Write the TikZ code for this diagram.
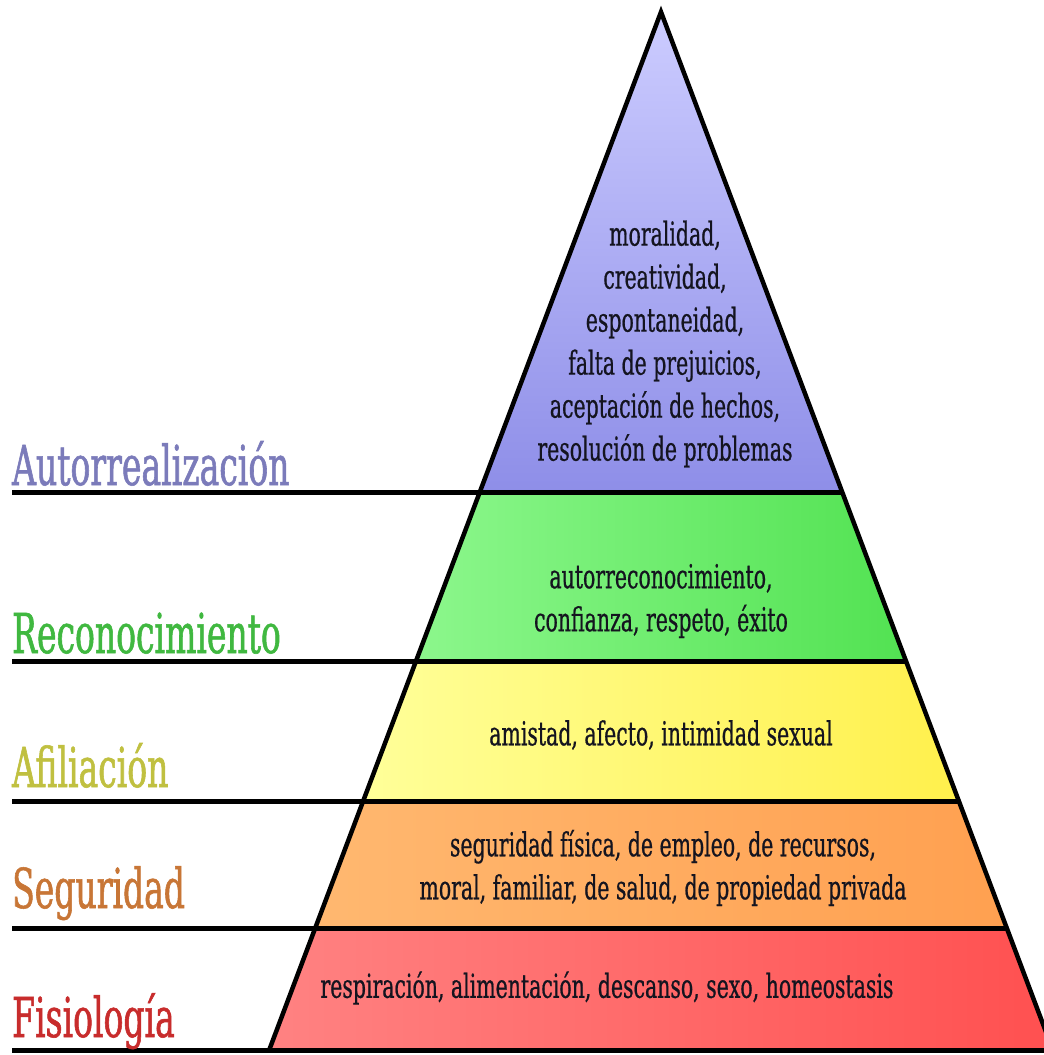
\documentclass[tikz,border=0pt]{standalone}
\usepackage{fontspec}
\setmainfont{DejaVu Serif}
\newfontfamily\narrowserif[FakeStretch=0.62,FakeBold=0.6]{DejaVu Serif}
\newfontfamily\labelserif[FakeStretch=0.6,FakeBold=1.0]{DejaVu Serif}
\definecolor{vioA}{HTML}{CCCCFF}
\definecolor{vioB}{HTML}{8E8EE8}
\definecolor{grnA}{HTML}{8CF78C}
\definecolor{grnB}{HTML}{52E252}
\definecolor{yelA}{HTML}{FFFF99}
\definecolor{yelB}{HTML}{FFF04C}
\definecolor{orgA}{HTML}{FFB870}
\definecolor{orgB}{HTML}{FFA050}
\definecolor{redA}{HTML}{FF8282}
\definecolor{redB}{HTML}{FF5050}
\definecolor{txt}{HTML}{14141F}
\definecolor{labV}{HTML}{7B7BBA}
\definecolor{labG}{HTML}{40B840}
\definecolor{labY}{HTML}{C0C040}
\definecolor{labO}{HTML}{C87636}
\definecolor{labR}{HTML}{C82C2C}
\begin{document}
\begin{tikzpicture}[x=1pt,y=-1pt,
  sep/.style={line width=5pt,black},
  edge/.style={line width=4.5pt,black,line join=miter},
  lbl/.style={anchor=base west,inner sep=0pt,font=\labelserif\fontsize{55}{60}\selectfont},
  inner/.style={align=center,inner sep=0pt,text=txt,font=\narrowserif\fontsize{33}{43}\selectfont}]
\clip (0,0) rectangle (1044,1055);
\fill[white] (0,0) rectangle (1044,1055);
% pyramid geometry
\coordinate (A) at (661,12);
\coordinate (L1) at (479.8,492);  \coordinate (R1) at (842.2,492);
\coordinate (L2) at (416.0,661);  \coordinate (R2) at (906.0,661);
\coordinate (L3) at (363.2,801);  \coordinate (R3) at (958.8,801);
\coordinate (L4) at (315.2,928);  \coordinate (R4) at (1006.8,928);
\coordinate (L5) at (269.2,1050); \coordinate (R5) at (1052.8,1050);
\coordinate (S1) at (12,492);
\coordinate (S2) at (12,661);
\coordinate (S3) at (12,801);
\coordinate (S4) at (12,928);
\coordinate (S5) at (12,1050);
% bands
\shade[top color=vioA,bottom color=vioB] (A) -- (R1) -- (L1) -- cycle;
\shade[left color=grnA,right color=grnB] (L1) -- (R1) -- (R2) -- (L2) -- cycle;
\shade[left color=yelA,right color=yelB] (L2) -- (R2) -- (R3) -- (L3) -- cycle;
\shade[left color=orgA,right color=orgB] (L3) -- (R3) -- (R4) -- (L4) -- cycle;
\shade[left color=redA,right color=redB] (L4) -- (R4) -- (R5) -- (L5) -- cycle;
% separators
\draw[sep] (S1) -- (R1);
\draw[sep] (S2) -- (R2);
\draw[sep] (S3) -- (R3);
\draw[sep] (S4) -- (R4);
\draw[sep] (S5) -- (R5);
% edges
\draw[edge] (L5) -- (A) -- (R5);
% level labels
\node[lbl,text=labV] (lv) at (12,485) {Autorrealización};
\node[lbl,text=labG] (lg) at (12,653) {Reconocimiento};
\node[lbl,text=labY] (ly) at (12,787) {Afiliación};
\node[lbl,text=labO] (lo) at (12,908) {Seguridad};
\node[lbl,text=labR] (lr) at (12,1037) {Fisiología};
% contents
\node[inner] (tv) at (665,344) {moralidad,\\creatividad,\\espontaneidad,\\falta de prejuicios,\\aceptación de hechos,\\resolución de problemas};
\node[inner] (tg) at (661,601) {autorreconocimiento,\\confianza, respeto, éxito};
\node[inner] (ty) at (661,735) {amistad, afecto, intimidad sexual};
\node[inner] (to) at (663,868) {seguridad física, de empleo, de recursos,\\moral, familiar, de salud, de propiedad privada};
\node[inner] (tr) at (607,988) {respiración, alimentación, descanso, sexo, homeostasis};
\end{tikzpicture}
\end{document}
